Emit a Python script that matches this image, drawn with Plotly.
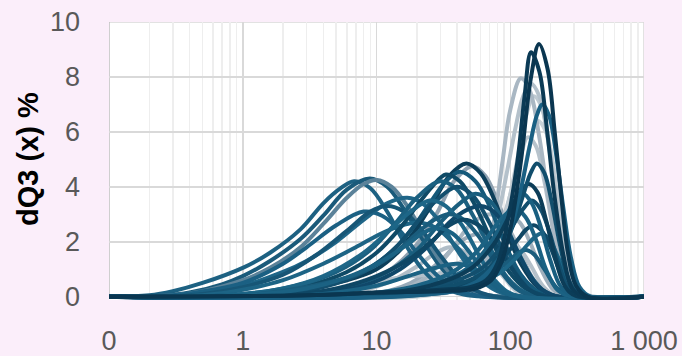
import plotly.graph_objects as go

# ---------------- data (particle size in µm, dQ3 in %) ----------------
# grey curves
GREY_SIZES = [
    [0.1, 2, 6, 12, 20, 28, 38, 52, 65, 80, 100, 130, 170, 240, 1000],
    [0.1, 8, 18, 30, 42, 60, 80, 105, 140, 190, 1000],
    [0.1, 5, 12, 20, 27, 35, 45, 60, 80, 110, 1000],
    [0.1, 10, 20, 32, 45, 55, 70, 90, 120, 1000],
    [0.1, 10, 22, 35, 50, 70, 90, 115, 150, 200, 1000],
    [0.1, 8, 22, 40, 58, 75, 88, 100, 118, 140, 170, 210, 260, 1000],
    [0.1, 10, 28, 48, 65, 80, 95, 115, 140, 175, 220, 1000],
    [0.1, 20, 45, 65, 85, 100, 118, 135, 155, 180, 210, 250, 310, 1000],
    [0.1, 25, 55, 80, 100, 120, 140, 160, 185, 215, 250, 300, 370, 1000],
    [0.1, 20, 45, 70, 90, 110, 130, 150, 172, 200, 235, 275, 340, 1000],
    [0.1, 2, 6, 15, 35, 55, 68, 80, 95, 110, 125, 143, 165, 190, 220, 260, 320, 1000],
    [0.1, 12, 30, 45, 55, 66, 77, 88, 100, 120, 140, 165, 195, 230, 280, 350, 1000],
]
GREY_VALUES = [
    [0, 0.05, 0.3, 0.9, 1.9, 3.0, 4.2, 4.75, 4.4, 3.5, 2.3, 1.1, 0.3, 0, 0],
    [0, 0.05, 0.5, 1.3, 2.0, 2.3, 2.0, 1.2, 0.4, 0.03, 0],
    [0, 0.05, 0.5, 1.1, 1.55, 1.8, 1.65, 1.1, 0.4, 0.03, 0],
    [0, 0.05, 0.4, 0.95, 1.3, 1.4, 1.25, 0.7, 0.1, 0],
    [0, 0.05, 0.6, 1.6, 2.6, 3.0, 2.7, 1.8, 0.6, 0.05, 0],
    [0, 0.05, 0.4, 1.0, 1.7, 2.4, 2.75, 2.9, 2.7, 2.0, 1.0, 0.25, 0.02, 0],
    [0, 0.05, 0.4, 1.0, 1.5, 1.85, 2.0, 1.8, 1.2, 0.4, 0.03, 0],
    [0, 0.05, 0.5, 1.3, 2.6, 3.7, 5.0, 5.8, 5.5, 4.2, 2.4, 0.8, 0.05, 0],
    [0, 0.05, 0.5, 1.4, 2.6, 4.0, 5.5, 6.4, 6.0, 4.5, 2.5, 0.7, 0.05, 0],
    [0, 0.05, 0.4, 1.3, 2.8, 4.7, 6.5, 7.3, 6.9, 5.2, 2.9, 1.0, 0.1, 0],
    [0, 0.05, 0.3, 0.7, 0.85, 0.9, 1.5, 2.8, 4.6, 6.2, 7.3, 7.75, 7.3, 5.8, 3.6, 1.4, 0.2, 0],
    [0, 0.05, 0.2, 0.3, 0.4, 1.35, 3.0, 5.0, 6.8, 7.95, 7.5, 5.8, 3.4, 1.4, 0.3, 0, 0],
]
GREY_COLORS = ["#8ea1b1", "#9aabb9", "#b0bdc7", "#bcc7cf", "#a8b6c1", "#9eafbc",
               "#b5c1ca", "#b7c3cc", "#c9d2d9", "#bfcad2", "#b4c1cb", "#a9b7c3"]

# fine samples (peaks around 7-20 µm)
FINE_SIZES = [
    [0.1, 0.2, 0.3, 0.5, 1, 1.6, 2.7, 4, 5.4, 6.8, 9, 12, 16, 22, 30, 45, 70, 1000],
    [0.1, 0.25, 0.4, 0.7, 1, 1.6, 2.7, 4, 6, 8.9, 12, 16, 22, 30, 40, 60, 90, 1000],
    [0.1, 0.3, 0.5, 1, 1.6, 2.7, 4, 6, 8, 10, 13, 17, 23, 30, 40, 60, 90, 1000],
    [0.1, 0.4, 1, 2, 3, 5, 8, 12, 17, 22, 30, 40, 55, 80, 120, 1000],
    [0.1, 0.3, 0.6, 1, 2, 3, 5, 8, 11, 15, 20, 28, 40, 60, 1000],
    [0.1, 0.4, 1, 2, 3.5, 6, 9, 12, 16, 22, 30, 45, 70, 1000],
    [0.1, 0.5, 1, 2, 4, 7, 12, 20, 28, 40, 60, 90, 1000],
]
FINE_VALUES = [
    [0, 0.05, 0.2, 0.5, 1.05, 1.6, 2.45, 3.4, 3.95, 4.2, 3.95, 3.1, 2.0, 1.0, 0.4, 0.08, 0, 0],
    [0, 0.04, 0.15, 0.45, 0.75, 1.3, 2.1, 2.95, 3.9, 4.3, 4.0, 3.2, 2.1, 1.1, 0.5, 0.1, 0, 0],
    [0, 0.05, 0.2, 0.6, 1.05, 1.8, 2.65, 3.6, 4.1, 4.25, 4.0, 3.3, 2.2, 1.3, 0.6, 0.12, 0, 0],
    [0, 0.05, 0.4, 0.9, 1.3, 2.0, 2.8, 3.4, 3.6, 3.4, 2.7, 1.7, 0.8, 0.2, 0, 0],
    [0, 0.05, 0.25, 0.5, 1.2, 1.8, 2.6, 3.1, 2.95, 2.4, 1.6, 0.8, 0.25, 0.02, 0],
    [0, 0.05, 0.35, 0.8, 1.5, 2.4, 3.1, 3.3, 3.1, 2.4, 1.5, 0.5, 0.05, 0],
    [0, 0.05, 0.25, 0.6, 1.2, 1.8, 2.4, 2.7, 2.5, 1.8, 0.8, 0.15, 0],
]
FINE_COLORS = ["#1d6182", "#1a5a7a", "#5b8299", "#1f6688", "#1b6083", "#175676", "#1d6485"]

# medium samples (peaks around 25-60 µm)
MEDIUM_SIZES = [
    [0.1, 1, 3, 6, 10, 15, 20, 27, 35, 47, 60, 75, 95, 120, 160, 220, 1000],
    [0.1, 1, 3, 7, 12, 18, 25, 33, 42, 55, 70, 90, 120, 160, 220, 1000],
    [0.1, 1, 3, 6, 10, 15, 20, 26, 33, 42, 55, 70, 95, 130, 190, 1000],
    [0.1, 1, 2.5, 5, 9, 14, 20, 30, 40, 52, 70, 95, 130, 180, 1000],
    [0.1, 1.5, 4, 8, 14, 20, 28, 40, 52, 68, 90, 120, 160, 1000],
    [0.1, 2, 6, 12, 20, 30, 42, 55, 70, 90, 115, 150, 200, 1000],
    [0.1, 0.8, 2, 4, 8, 13, 18, 25, 33, 45, 60, 80, 110, 1000],
    [0.1, 3, 8, 15, 25, 35, 47, 60, 75, 95, 120, 160, 220, 1000],
    [0.1, 1, 3, 7, 13, 20, 27, 35, 45, 60, 80, 110, 150, 1000],
    [0.1, 2, 5, 10, 18, 27, 35, 45, 58, 75, 100, 135, 180, 1000],
    [0.1, 1, 3, 6, 11, 17, 22, 28, 37, 50, 68, 95, 1000],
    [0.1, 3, 10, 20, 30, 40, 55, 75, 100, 1000],
]
MEDIUM_VALUES = [
    [0, 0.05, 0.3, 0.6, 1.0, 1.7, 2.5, 3.5, 4.4, 4.85, 4.5, 3.6, 2.3, 1.2, 0.35, 0.02, 0],
    [0, 0.05, 0.3, 0.8, 1.5, 2.4, 3.4, 4.2, 4.55, 4.2, 3.3, 2.0, 0.8, 0.2, 0, 0],
    [0, 0.08, 0.4, 0.9, 1.6, 2.5, 3.3, 4.0, 4.45, 4.2, 3.3, 2.2, 1.0, 0.3, 0.02, 0],
    [0, 0.1, 0.4, 0.9, 1.7, 2.7, 3.6, 4.2, 3.9, 3.0, 1.8, 0.7, 0.15, 0, 0],
    [0, 0.05, 0.35, 0.9, 1.8, 2.7, 3.5, 4.0, 3.7, 2.8, 1.6, 0.6, 0.1, 0],
    [0, 0.05, 0.35, 0.9, 1.7, 2.7, 3.4, 3.75, 3.5, 2.7, 1.6, 0.6, 0.08, 0],
    [0, 0.05, 0.3, 0.75, 1.6, 2.5, 3.1, 3.5, 3.3, 2.5, 1.4, 0.5, 0.05, 0],
    [0, 0.05, 0.4, 1.0, 1.9, 2.7, 3.15, 3.3, 3.1, 2.4, 1.4, 0.4, 0.02, 0],
    [0, 0.05, 0.35, 0.8, 1.5, 2.3, 2.8, 3.0, 2.8, 2.1, 1.1, 0.3, 0.02, 0],
    [0, 0.05, 0.3, 0.75, 1.4, 2.1, 2.6, 2.8, 2.6, 2.0, 1.1, 0.3, 0.02, 0],
    [0, 0.05, 0.3, 0.7, 1.3, 1.9, 2.3, 2.5, 2.3, 1.6, 0.7, 0.1, 0],
    [0, 0.05, 0.4, 0.85, 1.1, 1.2, 1.0, 0.5, 0.08, 0],
]
MEDIUM_COLORS = ["#0d3f5a", "#15597a", "#0f4a66", "#1b6080", "#134f6e", "#1a5e7e",
                 "#1d6687", "#10486a", "#1a5c7c", "#0f4765", "#1b6283", "#1b6283"]

# coarse samples (peaks around 100-180 µm)
COARSE_SIZES = [
    [0.1, 15, 40, 70, 95, 115, 130, 150, 180, 220, 270, 1000],
    [0.1, 20, 50, 85, 110, 135, 155, 170, 195, 225, 260, 310, 380, 1000],
    [0.1, 15, 40, 70, 95, 115, 132, 150, 172, 200, 235, 280, 340, 1000],
    [0.1, 6, 20, 40, 60, 78, 95, 110, 130, 155, 185, 225, 280, 1000],
    [0.1, 10, 30, 60, 85, 105, 125, 145, 168, 195, 230, 275, 340, 1000],
    [0.1, 8, 25, 50, 72, 90, 108, 125, 145, 170, 200, 240, 300, 1000],
    [0.1, 8, 25, 50, 75, 95, 115, 137, 160, 185, 215, 255, 310, 1000],
    [0.1, 10, 30, 60, 85, 105, 125, 142, 158, 180, 205, 235, 270, 320, 1000],
    [0.1, 20, 50, 80, 100, 120, 140, 158, 174, 195, 220, 250, 285, 330, 400, 1000],
    [0.1, 3, 10, 30, 50, 66, 80, 93, 113, 128, 143, 165, 190, 215, 250, 290, 350, 1000],
    [0.1, 3, 10, 30, 55, 72, 85, 100, 120, 142, 164, 190, 215, 240, 270, 310, 380, 1000],
]
COARSE_VALUES = [
    [0, 0.05, 0.35, 0.8, 1.25, 1.6, 1.7, 1.55, 1.0, 0.35, 0.02, 0],
    [0, 0.05, 0.35, 0.9, 1.4, 1.9, 2.2, 2.3, 2.1, 1.5, 0.8, 0.2, 0.01, 0],
    [0, 0.05, 0.4, 1.0, 1.6, 2.1, 2.45, 2.6, 2.4, 1.8, 0.9, 0.2, 0.01, 0],
    [0, 0.05, 0.4, 1.0, 1.8, 2.6, 3.05, 3.2, 2.9, 2.1, 1.0, 0.25, 0.02, 0],
    [0, 0.05, 0.4, 1.0, 1.8, 2.6, 3.2, 3.5, 3.2, 2.4, 1.2, 0.3, 0.02, 0],
    [0, 0.05, 0.4, 1.1, 2.0, 2.8, 3.5, 3.75, 3.4, 2.5, 1.3, 0.35, 0.02, 0],
    [0, 0.05, 0.4, 1.0, 1.9, 2.8, 3.7, 4.1, 3.8, 2.8, 1.5, 0.4, 0.03, 0],
    [0, 0.05, 0.3, 0.8, 1.6, 2.6, 3.7, 4.5, 4.85, 4.5, 3.4, 1.9, 0.7, 0.1, 0],
    [0, 0.05, 0.4, 1.3, 2.4, 3.9, 5.5, 6.6, 7.0, 6.6, 5.2, 3.2, 1.4, 0.35, 0, 0],
    [0, 0.05, 0.15, 0.25, 0.35, 0.6, 1.2, 2.45, 4.9, 7.3, 8.9, 8.2, 5.9, 3.6, 1.5, 0.3, 0, 0],
    [0, 0.05, 0.15, 0.2, 0.3, 0.6, 1.2, 2.45, 4.9, 7.9, 9.2, 8.3, 6.0, 3.7, 1.6, 0.4, 0, 0],
]
COARSE_COLORS = ["#1a5c7c", "#1d6687", "#0f4765", "#1b6283", "#134f6e", "#1a5f80",
                 "#0c3d58", "#114e6c", "#1a6083", "#0b3a55", "#0a3650"]

X_TICKS = [0.1, 1, 10, 100, 1000]
X_TICK_TEXT = ["0", "1", "10", "100", "1 000"]
Y_TICKS = [0, 2, 4, 6, 8, 10]
Y_TITLE = "dQ3 (x) %"

# ---------------- figure ----------------
fig = go.Figure()

for sizes_list, values_list, colors in [
    (GREY_SIZES, GREY_VALUES, GREY_COLORS),
    (FINE_SIZES, FINE_VALUES, FINE_COLORS),
    (MEDIUM_SIZES, MEDIUM_VALUES, MEDIUM_COLORS),
    (COARSE_SIZES, COARSE_VALUES, COARSE_COLORS),
]:
    for xs, ys, c in zip(sizes_list, values_list, colors):
        fig.add_trace(go.Scatter(
            x=xs, y=ys, mode="lines",
            line=dict(color=c, width=4, shape="spline", smoothing=1.0),
            hoverinfo="skip", showlegend=False,
        ))

minor_vals = [m * d for d in (0.1, 1, 10, 100) for m in range(2, 10)]

FONT = "Liberation Sans, Arial, sans-serif"

fig.update_layout(
    width=682, height=356,
    margin=dict(l=109, r=38, t=22, b=56, pad=0, autoexpand=False),
    paper_bgcolor="#fbeefa",
    plot_bgcolor="#ffffff",
    showlegend=False,
    font=dict(family=FONT, color="#595959"),
)
fig.update_xaxes(
    type="log", range=[-1, 3], automargin=False,
    tickmode="array", tickvals=X_TICKS, ticktext=X_TICK_TEXT,
    showgrid=True, gridcolor="#d9d9d9", gridwidth=1.5,
    zeroline=False, showline=False, ticks="",
    tickfont=dict(family=FONT, size=27, color="#595959"),
    ticklabelstandoff=22,
    minor=dict(tickmode="array", tickvals=minor_vals, showgrid=True,
               gridcolor="#eeeeee", gridwidth=1.5, ticks=""),
)
fig.update_yaxes(
    range=[-0.12, 10], automargin=False,
    tickmode="array", tickvals=Y_TICKS,
    showgrid=True, gridcolor="#d9d9d9", gridwidth=1.5,
    zeroline=False, showline=False, ticks="",
    tickfont=dict(family=FONT, size=27, color="#595959"),
    ticklabelstandoff=28,
)

# plot frame lines (top border, right border, left axis)
fig.add_shape(type="line", xref="x", yref="y", x0=0.1, x1=1000, y0=10, y1=10,
              line=dict(color="#d9d9d9", width=1.5), layer="below")
fig.add_shape(type="line", xref="x", yref="y", x0=1000, x1=1000, y0=0, y1=10,
              line=dict(color="#d9d9d9", width=1.5), layer="below")
fig.add_shape(type="line", xref="x", yref="y", x0=0.1, x1=0.1, y0=0, y1=10,
              line=dict(color="#bfbfbf", width=1.5), layer="below")

fig.add_annotation(
    text=Y_TITLE, textangle=-90, showarrow=False,
    xref="paper", yref="paper", x=-0.1505, y=0.509,
    xanchor="center", yanchor="middle",
    font=dict(family=FONT, size=29, color="#000000", weight="bold"),
)

fig.write_html(
    "out.html",
    config={"displayModeBar": False, "staticPlot": True},
    post_script="document.body.style.margin='0';document.body.style.overflow='hidden';",
)
